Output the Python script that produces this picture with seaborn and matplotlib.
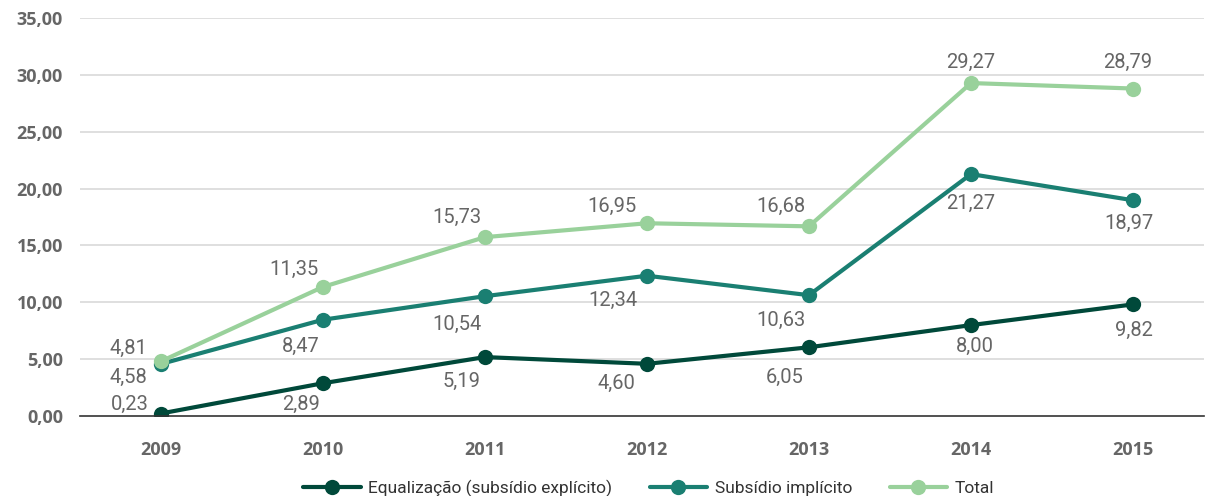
import matplotlib
matplotlib.use("Agg")
import matplotlib.pyplot as plt
import seaborn as sns
import pandas as pd

years = ["2009", "2010", "2011", "2012", "2013", "2014", "2015"]
equalizacao = [0.23, 2.89, 5.19, 4.60, 6.05, 8.00, 9.82]
implicito = [4.58, 8.47, 10.54, 12.34, 10.63, 21.27, 18.97]
total = [4.81, 11.35, 15.73, 16.95, 16.68, 29.27, 28.79]
series_names = ["Equalização (subsídio explícito)", "Subsídio implícito", "Total"]
yticks = [0, 5, 10, 15, 20, 25, 30, 35]

colors = ["#00493a", "#1a7f72", "#99d19b"]

# label offsets (pixels, label centre relative to point)
off_total = [(-32, 13), (-29, 18), (-28, 20), (-35, 17), (-28, 20), (0, 21), (-5, 26)]
off_impl = [(-32, -13), (-22, -27), (-28, -28), (-34, -25), (-28, -25), (0, -29), (-4, -23)]
off_equal = [(-31, 9), (-22, -21), (-23, -24), (-30, -20), (-24, -30), (4, -21), (1, -26)]

sns.set_theme(style="white")
plt.rcParams['font.family'] = ['Open Sans', 'DejaVu Sans']

rows = []
for name, vals in zip(series_names, [equalizacao, implicito, total]):
    for i, v in enumerate(vals):
        rows.append({"x": i, "year": years[i], "value": v, "serie": name})
df = pd.DataFrame(rows)

fig = plt.figure(figsize=(12.08, 4.96), dpi=100)
ax = fig.add_axes([0.066, 0.161, 0.931, 0.803])

for yv in yticks[1:]:
    ax.axhline(yv, color="#d9d9d9", lw=1.2, zorder=0)

sns.lineplot(data=df, x="x", y="value", hue="serie", hue_order=series_names,
             palette=colors, marker="o", markersize=11, markeredgewidth=0,
             linewidth=3, ax=ax, legend=True, zorder=3)

ax.set_xlim(-0.5, 6.44)
ax.set_ylim(0, 35)
ax.set_xticks(range(len(years)))
ax.set_xticklabels(years, fontsize=13, fontweight="bold", color="#666666")
ax.set_yticks(yticks)
ax.set_yticklabels([f"{v:.2f}".replace(".", ",") for v in yticks],
                   fontsize=13, fontweight="bold", color="#666666")
ax.tick_params(axis="x", direction="out", length=10, width=1, color="#333333", pad=8)
ax.tick_params(axis="y", length=0, pad=12)
ax.set_xlabel("")
ax.set_ylabel("")
for s in ["top", "right", "left"]:
    ax.spines[s].set_visible(False)
ax.spines["bottom"].set_color("#333333")
ax.spines["bottom"].set_linewidth(1.2)
ax.spines["bottom"].set_zorder(5)

lab_kw = dict(fontsize=14.5, color="#666666", family=["Roboto", "DejaVu Sans"],
              ha="center", va="center", textcoords="offset pixels")


def fmt(v):
    return f"{v:.2f}".replace(".", ",")


for vals, offs in [(total, off_total), (implicito, off_impl), (equalizacao, off_equal)]:
    for i, v in enumerate(vals):
        ax.annotate(fmt(v), (i, v), xytext=offs[i], **lab_kw)

handles, labels = ax.get_legend_handles_labels()
ax.legend(handles, labels, loc="center", bbox_to_anchor=(0.506, -0.182), ncol=3,
          frameon=False, handlelength=3.3, columnspacing=2.15,
          handletextpad=0.45, prop={"family": ["Roboto", "DejaVu Sans"], "size": 12.5})
leg = ax.get_legend()
for t in leg.get_texts():
    t.set_color("#333333")

fig.savefig("out.png", dpi=100)
